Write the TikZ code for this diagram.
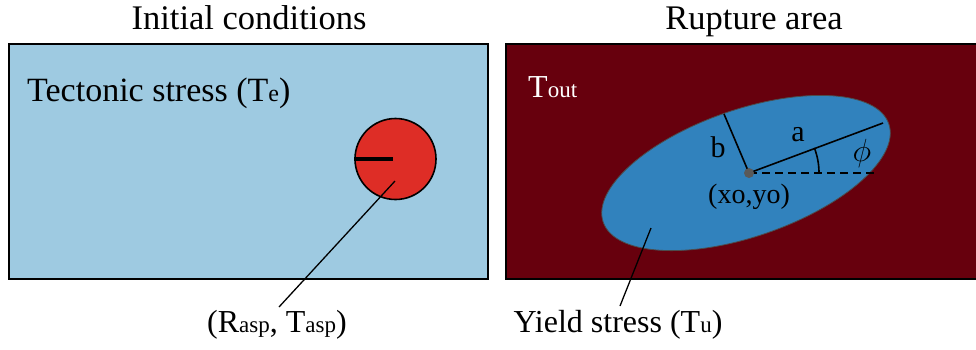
\RequirePackage{fix-cm}
\documentclass[tikz,border=0pt]{standalone}
\usepackage{fontspec}
\setmainfont{Liberation Serif}
\definecolor{lightblue}{HTML}{9ECAE1}
\definecolor{aspred}{HTML}{DE2D26}
\definecolor{darkred}{HTML}{67000D}
\definecolor{ellblue}{HTML}{3182BD}
\newcommand\smtxt[1]{{\fontsize{23}{24}\selectfont #1}}
\begin{document}
\begin{tikzpicture}[x=1pt,y=-1pt,
  lbl/.style={inner sep=0pt, font=\fontsize{32}{36}\selectfont},
  biglbl/.style={inner sep=0pt, font=\fontsize{34}{38}\selectfont},
  midlbl/.style={inner sep=0pt, font=\fontsize{30}{34}\selectfont},
  ttl/.style={inner sep=0pt, font=\fontsize{34.5}{38}\selectfont},
  frame/.style={draw=black, line width=2pt},
  leader/.style={draw=black, line width=1.3pt},
  axisline/.style={draw=black, line width=1.6pt}]
\useasboundingbox (0,0) rectangle (976,349);
% frames
\path[frame, fill=lightblue] (9,44) rectangle (488,279);
\path[frame, fill=darkred] (506,44) rectangle (990,279);
% titles
\node[ttl, anchor=base] (t1) at (249,29) {Initial conditions};
\node[ttl, anchor=base] (t2) at (754,29) {Rupture area};
% left panel
\node[biglbl, anchor=base west] (te) at (27,101) {Tectonic stress (T{\fontsize{24}{24}\selectfont e})};
\node[circle, draw=black, line width=1.6pt, fill=aspred, minimum size=81pt, inner sep=0pt] (asp) at (395.5,159) {};
\draw[line width=3.5pt] (asp.west) -- (393,159);
\coordinate (aspin) at (395,181);
\node[lbl, anchor=base] (asplbl) at (277,332) {(R\smtxt{asp}, T\smtxt{asp})};
\coordinate (aspend) at (279,307);
\draw[leader] (aspin) -- (aspend);
% right panel
\node[lbl, anchor=base west, text=white] (tout) at (528,97) {T\smtxt{out}};
\coordinate (c) at (749,173);
\draw[draw=black!70, line width=0.8pt, fill=ellblue, rotate around={19:(746,173)}] (746,173) ellipse [x radius=151, y radius=63.5];
\coordinate (aend) at (883,123);
\coordinate (bend) at (724,114);
\coordinate (dend) at (876,173);
\draw[axisline] (c) -- (aend);
\draw[axisline] (c) -- (bend);
\draw[line width=1.6pt, dash pattern=on 8pt off 5pt] (c) -- (dend);
\draw[line width=1.6pt] (c) ++(70,0) arc[start angle=0, end angle=21, radius=70pt];
\fill[black!65] (c) circle[radius=5pt];
\node[midlbl, anchor=base] (alab) at (798,141) {a};
\node[midlbl, anchor=base] (blab) at (718,157) {b};
\node[inner sep=0pt, font=\fontsize{32}{36}\selectfont] (philab) at (862,153) {$\phi$};
\node[inner sep=0pt, font=\fontsize{28}{32}\selectfont, anchor=base] (xylab) at (749,203) {(xo,yo)};
\coordinate (yin) at (651,228);
\coordinate (yend) at (620,306);
\draw[leader] (yin) -- (yend);
\node[lbl, anchor=base] (ylbl) at (618,332) {Yield stress (T\smtxt{u})};
\end{tikzpicture}
\end{document}
